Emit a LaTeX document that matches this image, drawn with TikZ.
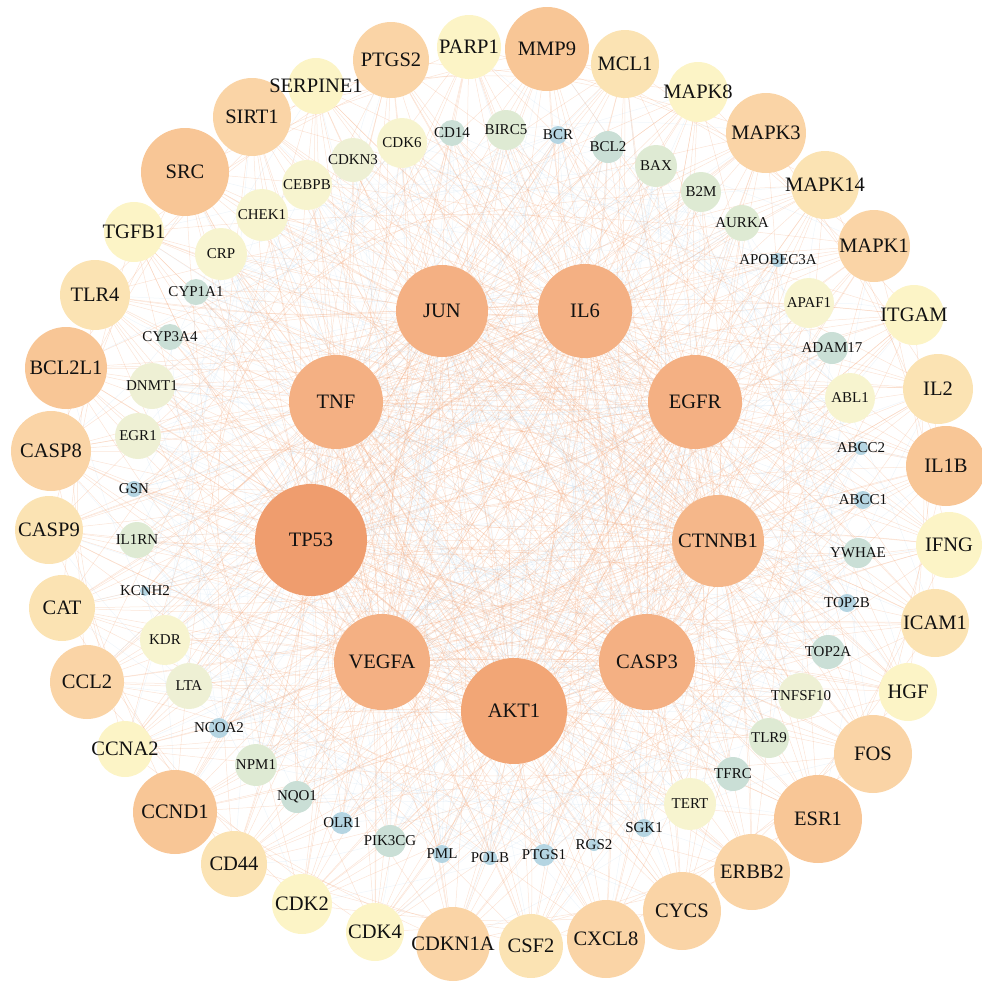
\documentclass[tikz,border=0pt]{standalone}
\usepackage{fontspec}
\setmainfont{Liberation Serif}
\usetikzlibrary{backgrounds}
\definecolor{cA}{HTML}{EF9D6E}
\definecolor{cAb}{HTML}{F2A676}
\definecolor{cB}{HTML}{F4B083}
\definecolor{cBb}{HTML}{F5B78A}
\definecolor{cC}{HTML}{F8C696}
\definecolor{cD}{HTML}{FAD4A6}
\definecolor{cE}{HTML}{FBE3B3}
\definecolor{cF}{HTML}{FCF4C6}
\definecolor{cY}{HTML}{F7F4CF}
\definecolor{cYG}{HTML}{EEF0D4}
\definecolor{cG}{HTML}{DEEAD3}
\definecolor{cT}{HTML}{CADFD6}
\definecolor{cBl}{HTML}{B5D5E2}
\definecolor{edgeO}{HTML}{F2A679}
\definecolor{edgeB}{HTML}{A9CBE6}
\definecolor{txt}{HTML}{111111}
\begin{document}
\begin{tikzpicture}[x=1pt,y=-1pt,
  gn/.style={circle,inner sep=0pt,draw=none},
  big/.style={label={[font=\fontsize{20.5}{22}\selectfont,text=txt,inner sep=0pt]center:#1}},
  sm/.style={label={[font=\fontsize{15}{16}\selectfont,text=txt,inner sep=0pt]center:#1}},
  eo/.style={draw=edgeO,line width=0.5pt,opacity=0.3},
  eb/.style={draw=edgeB,line width=0.5pt,opacity=0.18}]
\useasboundingbox (0,0) rectangle (982,983);
% hubs
\node[gn,big=JUN,fill=cB,minimum size=92,alias=h0] (JUN) at (442,311) {};
\node[gn,big=IL6,fill=cB,minimum size=94,alias=h1] (IL6) at (585,311) {};
\node[gn,big=EGFR,fill=cB,minimum size=94,alias=h2] (EGFR) at (695,402) {};
\node[gn,big=CTNNB1,fill=cBb,minimum size=92,alias=h3] (CTNNB1) at (718,541) {};
\node[gn,big=CASP3,fill=cB,minimum size=96,alias=h4] (CASP3) at (647,662) {};
\node[gn,big=AKT1,fill=cAb,minimum size=106,alias=h5] (AKT1) at (514,711) {};
\node[gn,big=VEGFA,fill=cB,minimum size=96,alias=h6] (VEGFA) at (382,662) {};
\node[gn,big=TP53,fill=cA,minimum size=112,alias=h7] (TP53) at (311,540) {};
\node[gn,big=TNF,fill=cB,minimum size=94,alias=h8] (TNF) at (336,402) {};
% outer ring
\node[gn,big=PARP1,fill=cF,minimum size=64,alias=o0] (PARP1) at (469,47) {};
\node[gn,big=MMP9,fill=cC,minimum size=84,alias=o1] (MMP9) at (547,49) {};
\node[gn,big=MCL1,fill=cE,minimum size=68,alias=o2] (MCL1) at (625,64) {};
\node[gn,big=MAPK8,fill=cF,minimum size=60,alias=o3] (MAPK8) at (698,92) {};
\node[gn,big=MAPK3,fill=cD,minimum size=80,alias=o4] (MAPK3) at (766,133) {};
\node[gn,big=MAPK14,fill=cE,minimum size=68,alias=o5] (MAPK14) at (825,185) {};
\node[gn,big=MAPK1,fill=cD,minimum size=72,alias=o6] (MAPK1) at (874,246) {};
\node[gn,big=ITGAM,fill=cF,minimum size=60,alias=o7] (ITGAM) at (914,315) {};
\node[gn,big=IL2,fill=cE,minimum size=70,alias=o8] (IL2) at (938,389) {};
\node[gn,big=IL1B,fill=cC,minimum size=80,alias=o9] (IL1B) at (946,466) {};
\node[gn,big=IFNG,fill=cF,minimum size=66,alias=o10] (IFNG) at (949,545) {};
\node[gn,big=ICAM1,fill=cE,minimum size=68,alias=o11] (ICAM1) at (935,623) {};
\node[gn,big=HGF,fill=cF,minimum size=58,alias=o12] (HGF) at (908,692) {};
\node[gn,big=FOS,fill=cD,minimum size=78,alias=o13] (FOS) at (873,754) {};
\node[gn,big=ESR1,fill=cC,minimum size=88,alias=o14] (ESR1) at (818,819) {};
\node[gn,big=ERBB2,fill=cD,minimum size=76,alias=o15] (ERBB2) at (752,872) {};
\node[gn,big=CYCS,fill=cD,minimum size=78,alias=o16] (CYCS) at (682,911) {};
\node[gn,big=CXCL8,fill=cD,minimum size=78,alias=o17] (CXCL8) at (606,939) {};
\node[gn,big=CSF2,fill=cE,minimum size=64,alias=o18] (CSF2) at (531,946) {};
\node[gn,big=CDKN1A,fill=cD,minimum size=74,alias=o19] (CDKN1A) at (453,944) {};
\node[gn,big=CDK4,fill=cF,minimum size=58,alias=o20] (CDK4) at (375,932) {};
\node[gn,big=CDK2,fill=cF,minimum size=60,alias=o21] (CDK2) at (302,904) {};
\node[gn,big=CD44,fill=cE,minimum size=66,alias=o22] (CD44) at (234,864) {};
\node[gn,big=CCND1,fill=cC,minimum size=84,alias=o23] (CCND1) at (175,812) {};
\node[gn,big=CCNA2,fill=cF,minimum size=56,alias=o24] (CCNA2) at (125,749) {};
\node[gn,big=CCL2,fill=cD,minimum size=74,alias=o25] (CCL2) at (87,682) {};
\node[gn,big=CAT,fill=cE,minimum size=66,alias=o26] (CAT) at (62,608) {};
\node[gn,big=CASP9,fill=cE,minimum size=68,alias=o27] (CASP9) at (49,530) {};
\node[gn,big=CASP8,fill=cD,minimum size=80,alias=o28] (CASP8) at (51,451) {};
\node[gn,big=BCL2L1,fill=cC,minimum size=82,alias=o29] (BCL2L1) at (66,368) {};
\node[gn,big=TLR4,fill=cE,minimum size=70,alias=o30] (TLR4) at (95,295) {};
\node[gn,big=TGFB1,fill=cF,minimum size=60,alias=o31] (TGFB1) at (134,232) {};
\node[gn,big=SRC,fill=cC,minimum size=88,alias=o32] (SRC) at (185,172) {};
\node[gn,big=SIRT1,fill=cD,minimum size=78,alias=o33] (SIRT1) at (252,117) {};
\node[gn,big=SERPINE1,fill=cF,minimum size=56,alias=o34] (SERPINE1) at (316,86) {};
\node[gn,big=PTGS2,fill=cD,minimum size=76,alias=o35] (PTGS2) at (391,60) {};
% inner ring
\node[gn,sm=CD14,fill=cT,minimum size=26,alias=i0] (CD14) at (452,133) {};
\node[gn,sm=BIRC5,fill=cG,minimum size=40,alias=i1] (BIRC5) at (506,130) {};
\node[gn,sm=BCR,fill=cBl,minimum size=18,alias=i2] (BCR) at (558,135) {};
\node[gn,sm=BCL2,fill=cT,minimum size=32,alias=i3] (BCL2) at (608,147) {};
\node[gn,sm=BAX,fill=cG,minimum size=42,alias=i4] (BAX) at (656,166) {};
\node[gn,sm=B2M,fill=cG,minimum size=40,alias=i5] (B2M) at (701,192) {};
\node[gn,sm=AURKA,fill=cG,minimum size=36,alias=i6] (AURKA) at (742,223) {};
\node[gn,sm=APOBEC3A,fill=cBl,minimum size=14,alias=i7] (APOBEC3A) at (778,260) {};
\node[gn,sm=APAF1,fill=cY,minimum size=50,alias=i8] (APAF1) at (809,303) {};
\node[gn,sm=ADAM17,fill=cT,minimum size=32,alias=i9] (ADAM17) at (832,348) {};
\node[gn,sm=ABL1,fill=cY,minimum size=50,alias=i10] (ABL1) at (850,398) {};
\node[gn,sm=ABCC2,fill=cBl,minimum size=14,alias=i11] (ABCC2) at (861,448) {};
\node[gn,sm=ABCC1,fill=cBl,minimum size=18,alias=i12] (ABCC1) at (863,500) {};
\node[gn,sm=YWHAE,fill=cT,minimum size=30,alias=i13] (YWHAE) at (858,553) {};
\node[gn,sm=TOP2B,fill=cBl,minimum size=18,alias=i14] (TOP2B) at (847,603) {};
\node[gn,sm=TOP2A,fill=cT,minimum size=34,alias=i15] (TOP2A) at (828,652) {};
\node[gn,sm=TNFSF10,fill=cYG,minimum size=46,alias=i16] (TNFSF10) at (801,696) {};
\node[gn,sm=TLR9,fill=cG,minimum size=40,alias=i17] (TLR9) at (769,738) {};
\node[gn,sm=TFRC,fill=cT,minimum size=34,alias=i18] (TFRC) at (733,774) {};
\node[gn,sm=TERT,fill=cY,minimum size=52,alias=i19] (TERT) at (690,804) {};
\node[gn,sm=SGK1,fill=cBl,minimum size=18,alias=i20] (SGK1) at (644,828) {};
\node[gn,sm=RGS2,fill=cBl,minimum size=12,alias=i21] (RGS2) at (594,845) {};
\node[gn,sm=PTGS1,fill=cBl,minimum size=22,alias=i22] (PTGS1) at (544,855) {};
\node[gn,sm=POLB,fill=cBl,minimum size=14,alias=i23] (POLB) at (490,858) {};
\node[gn,sm=PML,fill=cBl,minimum size=18,alias=i24] (PML) at (442,854) {};
\node[gn,sm=PIK3CG,fill=cT,minimum size=32,alias=i25] (PIK3CG) at (390,841) {};
\node[gn,sm=OLR1,fill=cBl,minimum size=22,alias=i26] (OLR1) at (342,823) {};
\node[gn,sm=NQO1,fill=cT,minimum size=32,alias=i27] (NQO1) at (297,797) {};
\node[gn,sm=NPM1,fill=cG,minimum size=42,alias=i28] (NPM1) at (256,765) {};
\node[gn,sm=NCOA2,fill=cBl,minimum size=20,alias=i29] (NCOA2) at (219,728) {};
\node[gn,sm=LTA,fill=cYG,minimum size=46,alias=i30] (LTA) at (189,686) {};
\node[gn,sm=KDR,fill=cY,minimum size=50,alias=i31] (KDR) at (165,640) {};
\node[gn,sm=KCNH2,fill=cBl,minimum size=10,alias=i32] (KCNH2) at (145,591) {};
\node[gn,sm=IL1RN,fill=cG,minimum size=36,alias=i33] (IL1RN) at (137,540) {};
\node[gn,sm=GSN,fill=cBl,minimum size=16,alias=i34] (GSN) at (134,489) {};
\node[gn,sm=EGR1,fill=cYG,minimum size=46,alias=i35] (EGR1) at (138,436) {};
\node[gn,sm=DNMT1,fill=cYG,minimum size=46,alias=i36] (DNMT1) at (152,386) {};
\node[gn,sm=CYP3A4,fill=cT,minimum size=26,alias=i37] (CYP3A4) at (170,337) {};
\node[gn,sm=CYP1A1,fill=cT,minimum size=26,alias=i38] (CYP1A1) at (196,292) {};
\node[gn,sm=CRP,fill=cY,minimum size=52,alias=i39] (CRP) at (221,254) {};
\node[gn,sm=CHEK1,fill=cY,minimum size=52,alias=i40] (CHEK1) at (262,215) {};
\node[gn,sm=CEBPB,fill=cY,minimum size=50,alias=i41] (CEBPB) at (307,185) {};
\node[gn,sm=CDKN3,fill=cYG,minimum size=44,alias=i42] (CDKN3) at (353,160) {};
\node[gn,sm=CDK6,fill=cY,minimum size=50,alias=i43] (CDK6) at (402,143) {};
% edges
\begin{scope}[on background layer]
\foreach \a in {0,...,8}{\foreach \b in {0,...,8}{\ifnum\a<\b \draw[eo] (h\a) to[bend left=4] (h\b);\fi}}
\foreach \a in {0,...,8}{\foreach \b in {0,...,35}{\draw[eo] (h\a) to[bend left=5] (o\b);}}
\foreach \a in {0,...,8}{\foreach \b in {0,...,43}{\pgfmathtruncatemacro\p{mod(\a+\b,3)}\ifnum\p=0 \draw[eb] (h\a) to[bend right=5] (i\b);\else \draw[eo] (h\a) to[bend right=5] (i\b);\fi}}
\foreach \a in {0,...,35}{\foreach \k in {5,11,16}{\pgfmathtruncatemacro\c{mod(\a+\k,36)}\draw[eo] (o\a) to[bend left=6] (o\c);}}
\foreach \a in {0,...,35}{\foreach \k in {3,17}{\pgfmathtruncatemacro\c{mod(\a*7+\k,44)}\draw[eb] (o\a) to[bend right=6] (i\c);}}
\foreach \a in {0,...,43}{\foreach \k in {9,20}{\pgfmathtruncatemacro\c{mod(\a+\k,44)}\draw[eb] (i\a) to[bend left=6] (i\c);}}
\end{scope}
\end{tikzpicture}
\end{document}
